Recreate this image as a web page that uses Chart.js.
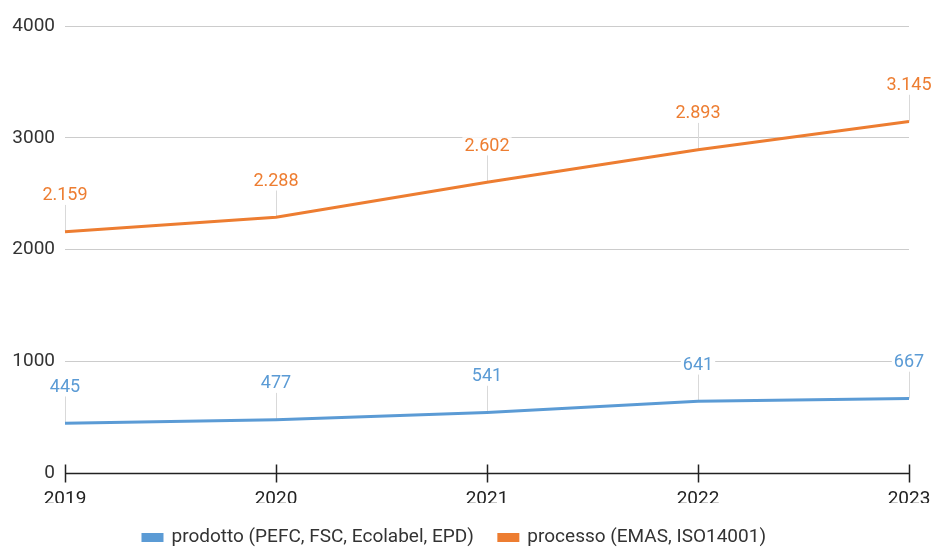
<!DOCTYPE html>
<html>
<head>
<meta charset="utf-8">
<title>Certificazioni</title>
<script src="https://cdn.jsdelivr.net/npm/chart.js@4"></script>
<style>
  html, body { margin: 0; padding: 0; background: #fff; }
  #wrap { width: 931px; height: 547px; }
</style>
</head>
<body>
<div id="wrap"><canvas id="chart"></canvas></div>
<script>
  // dati
  const anni = ['2019', '2020', '2021', '2022', '2023'];
  const prodotto = [445, 477, 541, 641, 667];
  const processo = [2159, 2288, 2602, 2893, 3145];
  const nomiSerie = ['prodotto (PEFC, FSC, Ecolabel, EPD)', 'processo (EMAS, ISO14001)'];

  const BLU = '#5b9bd5';
  const ARANCIO = '#ed7d31';
  const FONT = 'Roboto';

  // 2159 -> "2.159"
  function formatta(v) {
    return String(v).replace(/\B(?=(\d{3})+(?!\d))/g, '.');
  }

  // linee guida + etichette sopra ogni punto
  const etichette = {
    id: 'etichette',
    beforeDatasetsDraw(chart) {
      const ctx = chart.ctx;
      ctx.save();
      ctx.strokeStyle = '#d9d9d9';
      ctx.lineWidth = 1;
      chart.data.datasets.forEach((ds, i) => {
        chart.getDatasetMeta(i).data.forEach(pt => {
          const x = Math.round(pt.x) + 0.5;
          ctx.beginPath();
          ctx.moveTo(x, pt.y);
          ctx.lineTo(x, pt.y - 27);
          ctx.stroke();
        });
      });
      ctx.restore();
    },
    afterDatasetsDraw(chart) {
      const ctx = chart.ctx;
      ctx.save();
      ctx.font = '18px ' + FONT;
      ctx.textAlign = 'center';
      ctx.textBaseline = 'middle';
      chart.data.datasets.forEach((ds, i) => {
        chart.getDatasetMeta(i).data.forEach((pt, j) => {
          const testo = formatta(ds.data[j]);
          const w = ctx.measureText(testo).width;
          const ly = pt.y - 36;
          ctx.fillStyle = '#fff';
          ctx.fillRect(pt.x - w / 2 - 2, ly - 9, w + 4, 18);
          ctx.fillStyle = ds.borderColor;
          ctx.fillText(testo, pt.x, ly);
        });
      });
      ctx.restore();
    }
  };

  // asse x nero con tacche che attraversano la linea
  const asseX = {
    id: 'asseX',
    afterDraw(chart) {
      const ctx = chart.ctx;
      const sx = chart.scales.x;
      const y = Math.round(chart.chartArea.bottom) + 0.5;
      ctx.save();
      ctx.strokeStyle = '#222';
      ctx.lineWidth = 1.5;
      ctx.beginPath();
      ctx.moveTo(chart.chartArea.left, y);
      ctx.lineTo(chart.chartArea.right, y);
      for (let i = 0; i < anni.length; i++) {
        const x = Math.round(sx.getPixelForValue(i)) + 0.5;
        ctx.moveTo(x, y - 9);
        ctx.lineTo(x, y + 9);
      }
      ctx.stroke();
      ctx.restore();
    }
  };

  // la legenda tiene spazio largo tra le voci ma resta bassa
  const legendaBassa = {
    id: 'legendaBassa',
    afterInit(chart) {
      const lg = chart.legend;
      if (!lg) return;
      const fitOrig = lg.fit.bind(lg);
      lg.fit = function () {
        fitOrig();
        this.height = 44;
      };
    }
  };

  const ctx = document.getElementById('chart').getContext('2d');
  const grafico = new Chart(ctx, {
    type: 'line',
    data: {
      labels: anni,
      datasets: [{
        label: nomiSerie[0],
        data: prodotto,
        borderColor: BLU,
        backgroundColor: BLU,
        borderWidth: 3,
        pointRadius: 0,
        tension: 0
      }, {
        label: nomiSerie[1],
        data: processo,
        borderColor: ARANCIO,
        backgroundColor: ARANCIO,
        borderWidth: 3,
        pointRadius: 0,
        tension: 0
      }]
    },
    options: {
      responsive: true,
      maintainAspectRatio: false,
      animation: false,
      layout: { padding: { top: 26, right: 22, left: 0, bottom: 0 } },
      plugins: {
        tooltip: { enabled: false },
        legend: {
          position: 'bottom',
          labels: {
            boxWidth: 19,
            boxHeight: 6,
            padding: 25,
            color: '#333',
            font: { family: FONT, size: 19 }
          }
        }
      },
      scales: {
        x: {
          offset: false,
          grid: { display: false, drawTicks: false },
          border: { display: false },
          ticks: { color: '#222', padding: 15, font: { family: FONT, size: 19 } },
          afterFit(scale) {
            scale.height = 30;
            scale.paddingLeft = 0;
            scale.paddingRight = 0;
          }
        },
        y: {
          min: 0,
          max: 4000,
          grid: { color: '#cccccc', drawTicks: false },
          border: { display: false },
          ticks: {
            stepSize: 1000,
            color: '#333',
            padding: 10,
            font: { family: FONT, size: 19 },
            callback: v => String(v)
          },
          afterFit(scale) {
            scale.width = 65;
            scale.paddingTop = 0;
            scale.paddingBottom = 0;
          }
        }
      }
    },
    plugins: [etichette, asseX, legendaBassa]
  });
</script>
</body>
</html>
